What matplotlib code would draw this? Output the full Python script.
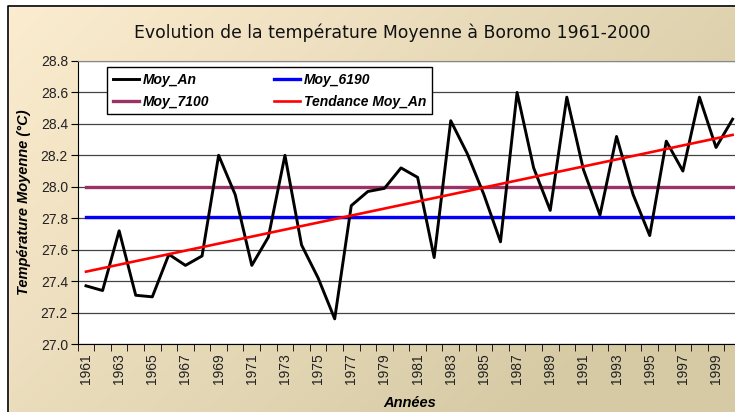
import numpy as np
import matplotlib
matplotlib.use("Agg")
import matplotlib.pyplot as plt
from matplotlib.patches import Rectangle

years = list(range(1961, 2001))
moy_an = [27.37, 27.34, 27.72, 27.31, 27.30, 27.57, 27.50, 27.56, 28.20, 27.95,
          27.50, 27.68, 28.20, 27.63, 27.42, 27.16, 27.88, 27.97, 27.99, 28.12,
          28.06, 27.55, 28.42, 28.21, 27.95, 27.65, 28.60, 28.12, 27.85, 28.57,
          28.11, 27.82, 28.32, 27.95, 27.69, 28.29, 28.10, 28.57, 28.25, 28.43]
moy_6190 = 27.81
moy_7100 = 28.00
trend_years = [1961, 2000]
trend_values = [27.46, 28.33]
yticks = [27.0, 27.2, 27.4, 27.6, 27.8, 28.0, 28.2, 28.4, 28.6, 28.8]
xtick_years = list(range(1961, 2000, 2))

W, H = 735, 412
fig = plt.figure(figsize=(W / 100, H / 100), dpi=100)
fig.patch.set_facecolor("white")

# gradient background
bg = fig.add_axes([0, 0, 1, 1], zorder=-10)
bg.set_axis_off()
nx, ny = 300, 200
xx, yy = np.meshgrid(np.linspace(0, 1, nx), np.linspace(0, 1, ny))
t = np.clip(0.75 * xx + 0.45 * yy, 0, 1)
c0 = np.array([252, 237, 208]) / 255
c1 = np.array([214, 202, 165]) / 255
img = c0[None, None, :] * (1 - t[..., None]) + c1[None, None, :] * t[..., None]
bg.imshow(img, extent=[0, 1, 0, 1], aspect="auto", origin="upper")
bg.set_xlim(0, 1)
bg.set_ylim(0, 1)
# white outside border
bg.add_patch(Rectangle((0, 0), 8 / W, 1, color="white", zorder=2))
bg.add_patch(Rectangle((0, 1 - 6 / H), 1, 6 / H, color="white", zorder=2))
bg.plot([8 / W, 8 / W, 1], [0, 1 - 6 / H, 1 - 6 / H], color="black", lw=1.2, zorder=3)

left_px, top_px, bot_px = 77.7, 61, 344
px_per_year = 16.58
right_px = left_px + 40 * px_per_year
ax = fig.add_axes([left_px / W, 1 - bot_px / H, (right_px - left_px) / W, (bot_px - top_px) / H])
ax.set_facecolor("white")

ax.plot(years, moy_an, color="black", lw=2.1, label="Moy_An", zorder=5)
ax.plot([years[0], years[-1]], [moy_7100, moy_7100], color="#993366", lw=2.4, label="Moy_7100", zorder=4)
ax.plot([years[0], years[-1]], [moy_6190, moy_6190], color="#0000FF", lw=2.4, label="Moy_6190", zorder=4)
ax.plot(trend_years, trend_values, color="#FF0000", lw=1.9, label="Tendance Moy_An", zorder=6)

ax.set_xlim(1960.5, 2000.5)
ax.set_ylim(27.0, 28.8)
ax.set_yticks(yticks)
ax.set_yticklabels([f"{v:.1f}" for v in yticks], fontsize=10, family="Liberation Sans", color="#222222")
ax.yaxis.grid(True, color="#444444", lw=0.9)
ax.set_axisbelow(True)

ax.set_xticks(xtick_years)
ax.set_xticklabels([str(y) for y in xtick_years], rotation=90, fontsize=10,
                   family="Liberation Sans", color="#222222")
ax.set_xticks(np.arange(1960.5, 2001, 1), minor=True)
ax.tick_params(axis="x", which="major", length=0, pad=7)
ax.tick_params(axis="x", which="minor", length=5, direction="out", color="black")
ax.tick_params(axis="y", length=5, direction="out", color="black", pad=2)

ax.spines["left"].set_color("black")
ax.spines["bottom"].set_color("black")
ax.spines["top"].set_color("#888888")
ax.spines["right"].set_color("#888888")

ax.set_ylabel("Température Moyenne (°C)", fontsize=10.5, fontweight="bold", style="italic",
              family="Liberation Sans", labelpad=7)
ax.set_xlabel("Années", fontsize=10.5, fontweight="bold", style="italic",
              family="Liberation Sans", labelpad=8)

h, l = ax.get_legend_handles_labels()
leg = ax.legend(h, l, ncol=2,
                loc="upper left", bbox_to_anchor=((107 - left_px) / (right_px - left_px),
                                                  1 - (67 - top_px) / (bot_px - top_px)),
                borderaxespad=0, fancybox=False, edgecolor="black", framealpha=1,
                prop={"family": "Liberation Sans", "weight": "bold", "style": "italic", "size": 10},
                handlelength=1.9, handletextpad=0.3, columnspacing=4.6, labelspacing=0.6,
                borderpad=0.4)
leg.get_frame().set_linewidth(1.0)

fig.text(392 / W, 1 - 33 / H, "Evolution de la température Moyenne à Boromo 1961-2000",
         ha="center", va="center", fontsize=12.4, family="DejaVu Sans", color="#111111")

fig.savefig("out.png", dpi=100)
